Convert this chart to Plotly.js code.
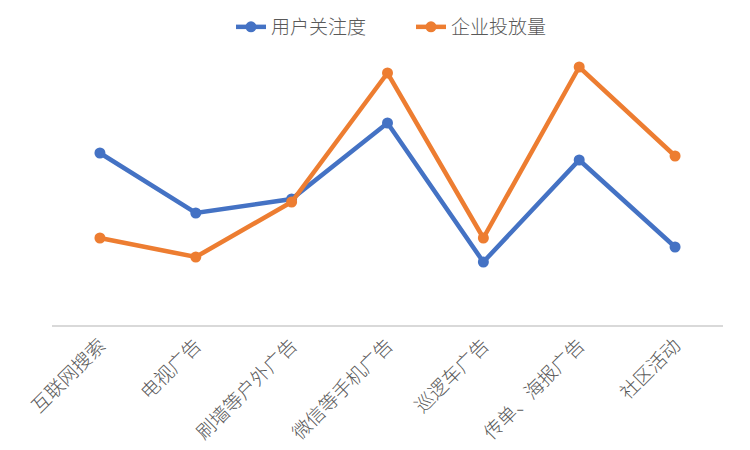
<!DOCTYPE html>
<html>
<head>
<meta charset="utf-8">
<script src="https://cdn.plot.ly/plotly-3.0.1.min.js"></script>
<style>
  html, body { margin: 0; padding: 0; background: #fff; }
  #chart { width: 750px; height: 450px; }
</style>
</head>
<body>
<div id="chart"></div>
<script>
/*
 Data
*/

var categories = ["互联网搜索", "电视广告", "刷墙等户外广告", "微信等手机广告", "巡逻车广告", "传单、海报广告", "社区活动"];
var user_attention = [172, 112, 126, 202, 63, 165, 78];
var company_spend = [87, 68, 123, 252, 87, 258, 169];

/*
 Chart
*/

var trace1 = {
  x: categories,
  y: user_attention,
  name: "用户关注度",
  type: "scatter",
  mode: "lines+markers",
  line: { color: "#4472C4", width: 4.5 },
  marker: { color: "#4472C4", size: 11 }
};

var trace2 = {
  x: categories,
  y: company_spend,
  name: "企业投放量",
  type: "scatter",
  mode: "lines+markers",
  line: { color: "#ED7D31", width: 4.5 },
  marker: { color: "#ED7D31", size: 11 }
};

var data = [trace1, trace2];

var layout = {
  width: 750,
  height: 450,
  margin: { l: 52, r: 27, t: 25, b: 125, autoexpand: false },
  paper_bgcolor: "#fff",
  plot_bgcolor: "#fff",
  font: { family: "Noto Sans CJK SC, sans-serif", color: "#595959", size: 19, weight: 300 },
  showlegend: true,
  legend: {
    orientation: "h",
    x: 0.535,
    xanchor: "center",
    yref: "container",
    y: 0.94,
    yanchor: "middle",
    font: { size: 19, color: "#595959", weight: 300 },
    entrywidth: 135
  },
  xaxis: {
    type: "category",
    range: [-0.5, 6.5],
    tickangle: -45,
    showline: true,
    linecolor: "#D9D9D9",
    linewidth: 1.5,
    showgrid: false,
    ticks: "",
    tickfont: { size: 19, color: "#595959", weight: 300 },
    automargin: false,
    fixedrange: true
  },
  yaxis: {
    range: [0, 300],
    showgrid: false,
    showticklabels: false,
    zeroline: false,
    showline: false,
    ticks: "",
    fixedrange: true
  }
};

var config = {
  displayModeBar: false
};

Plotly.newPlot("chart", data, layout, config);
</script>
</body>
</html>
